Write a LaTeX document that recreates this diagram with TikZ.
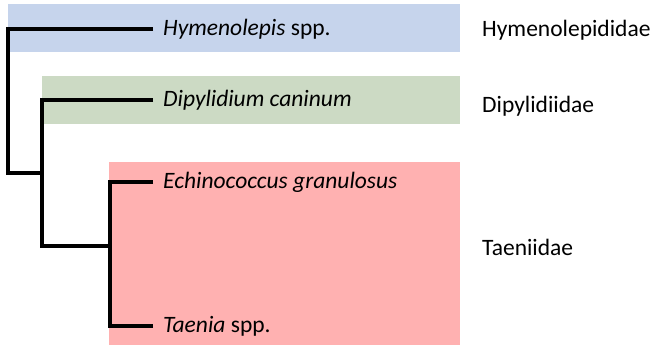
\documentclass[tikz,border=0pt]{standalone}
\usepackage{fontspec}
\setmainfont{Carlito}
\usetikzlibrary{positioning}
\definecolor{hymblue}{RGB}{198, 212, 236}
\definecolor{dipgreen}{RGB}{204, 218, 196}
\definecolor{taepink}{RGB}{255, 177, 177}

\begin{document}
\begin{tikzpicture}[x=1pt, y=-1pt,
            taxon/.style={anchor=west, inner xsep=10pt, inner ysep=0pt, text height=13pt, text depth=0pt, font=\fontsize{23.5}{28}\selectfont},
            family/.style={anchor=west, inner sep=0pt, text height=13pt, text depth=0pt, font=\fontsize{23.5}{28}\selectfont},
            branch/.style={line width=3.4pt, line join=miter, black}
        ]
            \useasboundingbox (0,0) rectangle (657,345);

            % Bands
            \fill[hymblue] (8,4) rectangle (460,52);
            \fill[dipgreen] (42,76) rectangle (460,124);
            \fill[taepink] (109,162) rectangle (460,345);

            % Taxa
            \node[taxon] (hym) at (153,29) {\textit{Hymenolepis} spp.};
            \node[taxon] (dip) at (153,100) {\textit{Dipylidium caninum}};
            \node[taxon] (echi) at (153,182) {\textit{Echinococcus granulosus}};
            \node[taxon] (tae) at (153,326) {\textit{Taenia} spp.};

            % Families
            \node[family] (hymfam) at (482,30) {Hymenolepididae};
            \node[family] (dipfam) at (482,106.5) {Dipylidiidae};
            \node[family] (taefam) at (482,248.5) {Taeniidae};

            % Inner nodes
            \coordinate (root) at (8,173);
            \coordinate (cyc) at (42,173);
            \coordinate (cycbase) at (42,246);
            \coordinate (tae-root) at (110,246);

            % Branches
            \draw[branch] (hym.west) -| (root) -- (cyc);
            \draw[branch] (dip.west) -| (cycbase) -- (tae-root);
            \draw[branch] (echi.west) -| (tae-root);
            \draw[branch] (tae.west) -| (tae-root);

        \end{tikzpicture}
\end{document}
